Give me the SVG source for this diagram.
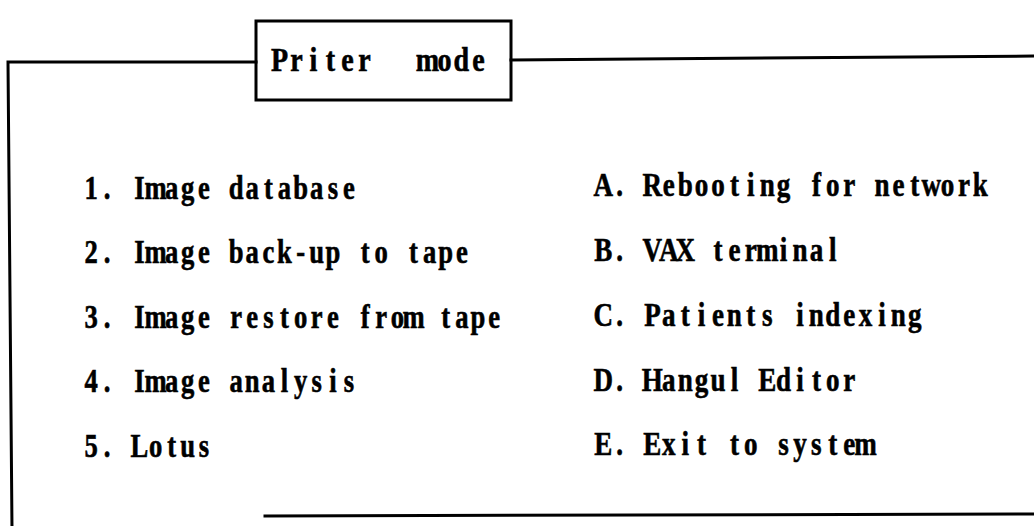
<svg xmlns="http://www.w3.org/2000/svg" width="1034" height="526" viewBox="0 0 1034 526">
  <style>
    .frame { fill: none; stroke: #000; stroke-width: 3; stroke-linecap: square; }
    /* heavy slab-serif glyphs squeezed into fixed 16px cells, each glyph centred in its cell */
    .item { font-family: "Liberation Serif", "Times New Roman", serif; font-weight: bold; font-size: 33px; fill: #000; stroke: #000; stroke-width: 0.6; text-anchor: middle; }
  </style>
  <rect width="1034" height="526" fill="#fff"/>

  <!-- outer menu frame -->
  <g id="frame">
    <path class="frame" d="M 256 62 L 8 62 L 12 530"/>
    <path class="frame" d="M 511 60 L 1040 56"/>
    <path class="frame" d="M 265 516 L 1040 514"/>
  </g>

  <!-- title box -->
  <g id="title">
    <rect class="frame" x="256" y="21" width="255" height="79"/>
    <text class="item" transform="matrix(0.85 0 0 1 271 71)" x="10 30 50 70 90 110 130 184 204 224 244">Priter mode</text>
  </g>

  <!-- left column -->
  <g id="item-1"><text class="item" transform="matrix(0.806 0 0 1 83 199)" x="10 30 50 70 90 110 130 150 170 190 210 230 250 270 290 310 330">1. Image database</text></g>
  <g id="item-2"><text class="item" transform="matrix(0.806 0 0 1 83 263)" x="10 30 50 70 90 110 130 150 170 190 210 230 250 270 290 310 330 350 370 390 410 430 450 470">2. Image back-up to tape</text></g>
  <g id="item-3"><text class="item" transform="matrix(0.806 0 0 1 83 328)" x="10 30 50 70 90 110 130 150 170 190 210 230 250 270 290 310 330 350 370 390 410 430 450 470 490 510">3. Image restore from tape</text></g>
  <g id="item-4"><text class="item" transform="matrix(0.806 0 0 1 83 392)" x="10 30 50 70 90 110 130 150 170 190 210 230 250 270 290 310 330">4. Image analysis</text></g>
  <g id="item-5"><text class="item" transform="matrix(0.806 0 0 1 83 457)" x="10 30 50 70 90 110 130 150">5. Lotus</text></g>

  <!-- right column -->
  <g id="item-a"><text class="item" transform="matrix(0.82 0 0 1 595 196)" x="10 30 50 70 90 110 130 150 170 190 210 230 250 270 290 310 330 350 370 390 410 430 450 470">A. Rebooting for network</text></g>
  <g id="item-b"><text class="item" transform="matrix(0.82 0 0 1 595 261)" x="10 30 50 70 90 110 130 150 170 190 210 230 250 270 290">B. VAX terminal</text></g>
  <g id="item-c"><text class="item" transform="matrix(0.82 0 0 1 595 326)" x="10 30 50 70 90 110 130 150 170 190 210 230 250 270 290 310 330 350 370 390">C. Patients indexing</text></g>
  <g id="item-d"><text class="item" transform="matrix(0.82 0 0 1 595 391)" x="10 30 50 70 90 110 130 150 170 190 210 230 250 270 290 310">D. Hangul Editor</text></g>
  <g id="item-e"><text class="item" transform="matrix(0.82 0 0 1 595 455)" x="10 30 50 70 90 110 130 150 170 190 210 230 250 270 290 310 330">E. Exit to system</text></g>
</svg>
